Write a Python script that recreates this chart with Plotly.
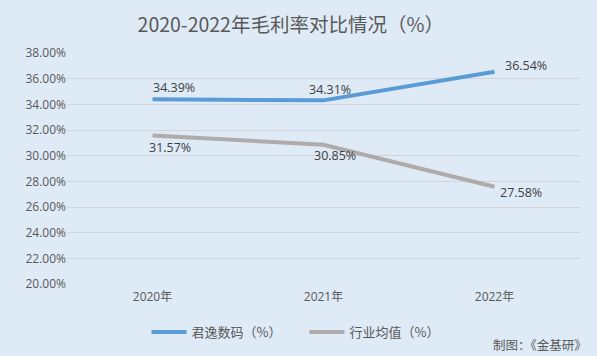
import plotly.graph_objects as go

years = ["2020年", "2021年", "2022年"]
junyi = [34.39, 34.31, 36.54]
industry = [31.57, 30.85, 27.58]
series_names = ["君逸数码（%）", "行业均值（%）"]
y_ticks = [20, 22, 24, 26, 28, 30, 32, 34, 36, 38]

FONT = "Open Sans, Noto Sans CJK SC, sans-serif"
TXT = "#595959"
BG = "#DEEAF6"

fig = go.Figure()
fig.add_trace(go.Scatter(x=years, y=junyi, mode="lines", name=series_names[0],
                         line=dict(color="#5B9BD5", width=4)))
fig.add_trace(go.Scatter(x=years, y=industry, mode="lines", name=series_names[1],
                         line=dict(color="#AFABAB", width=4)))

# label offsets (pixels)
blue_off = [(21, 12), (6, 11), (31, 6)]
gray_off = [(17, -12), (11, -11), (26, -6)]
for vals, offs in ((junyi, blue_off), (industry, gray_off)):
    for xv, yv, (dx, dy) in zip(years, vals, offs):
        fig.add_annotation(x=xv, y=yv, text=f"{yv:.2f}%", showarrow=False,
                           xshift=dx, yshift=dy,
                           font=dict(family=FONT, size=12.5, color="#404040"))

fig.add_annotation(xref="paper", yref="paper", x=1.0175, y=-0.264, xanchor="right", yanchor="middle",
                   text="制图：《金基研》", showarrow=False,
                   font=dict(family="Noto Sans CJK SC", size=12.5, color=TXT))

fig.update_layout(
    width=597, height=356,
    paper_bgcolor=BG, plot_bgcolor=BG,
    margin=dict(l=67, r=17, t=53, b=72, autoexpand=False),
    title=dict(text="2020-2022年毛利率对比情况（%）", x=0.487, xanchor="center", y=0.93, yanchor="middle",
               font=dict(family="Noto Sans CJK SC", size=19.5, color=TXT)),
    xaxis=dict(range=[-0.5, 2.5], showgrid=False, showline=False, zeroline=False,
               tickfont=dict(family=FONT, size=12, color=TXT), ticks="", ticklabelstandoff=4),
    yaxis=dict(range=[20, 38], tickvals=y_ticks, ticktext=[f"{v:.2f}%" for v in y_ticks],
               showgrid=True, gridcolor="#D0D3D8", gridwidth=1, zeroline=False, showline=False,
               tickfont=dict(family=FONT, size=12, color=TXT), ticks=""),
    legend=dict(orientation="h", x=0.155, xanchor="left", y=-0.208, yanchor="middle",
                font=dict(family="Noto Sans CJK SC", size=13, color=TXT),
                bgcolor="rgba(0,0,0,0)", itemwidth=35, tracegroupgap=0,
                entrywidth=108, entrywidthmode="pixels"),
    showlegend=True,
)

fig.write_html("out.html", config={"displayModeBar": False},
               post_script="document.body.style.margin='0';document.body.style.overflow='hidden';")
